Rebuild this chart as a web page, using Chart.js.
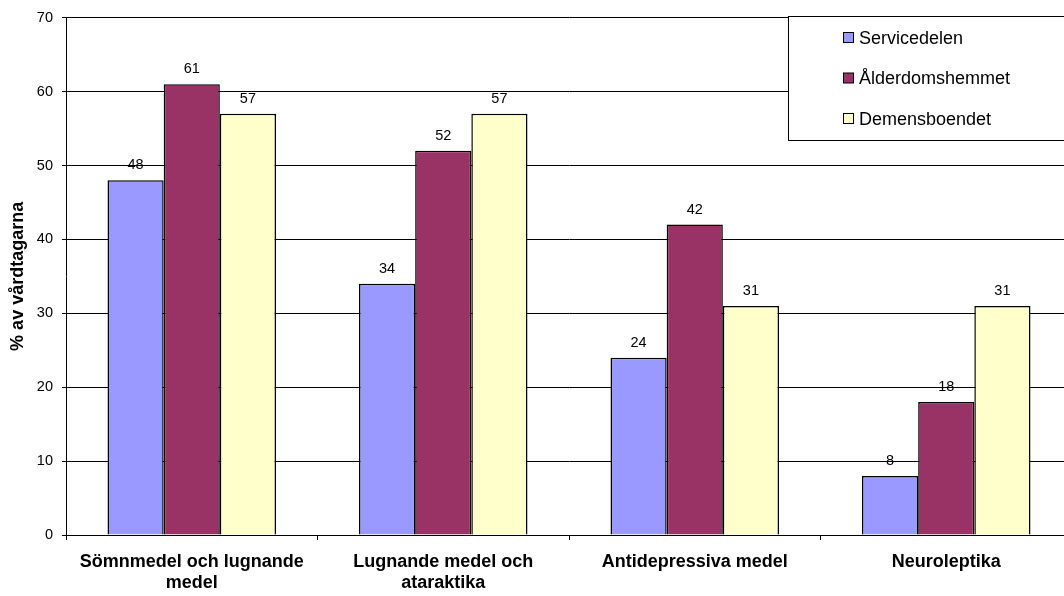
<!DOCTYPE html>
<html>
<head>
<meta charset="utf-8">
<script src="https://cdn.jsdelivr.net/npm/chart.js@4/dist/chart.umd.min.js"></script>
<style>
  html, body { margin: 0; padding: 0; background: #fff; overflow: hidden; }
  #wrap { width: 1064px; height: 596px; position: relative; overflow: hidden; }
</style>
</head>
<body>
<div id="wrap"><canvas id="barChart" width="1072" height="596"></canvas></div>
<script>
const categories = [
  ['Sömnmedel och lugnande', 'medel'],
  ['Lugnande medel och', 'ataraktika'],
  'Antidepressiva medel',
  'Neuroleptika'
];
const seriesNames = ['Servicedelen', 'Ålderdomshemmet', 'Demensboendet'];
const servicedelen = [48, 34, 24, 8];
const alderdomshemmet = [61, 52, 42, 18];
const demensboendet = [57, 57, 31, 31];
const yTicks = [0, 10, 20, 30, 40, 50, 60, 70];

const colors = ['#9999FF', '#993366', '#FFFFCC'];
const FONT = 'Arial, "Liberation Sans", sans-serif';

// etiketter ovanför staplarna
const valueLabels = {
  id: 'valueLabels',
  afterDatasetsDraw(chart) {
    const ctx = chart.ctx;
    ctx.save();
    ctx.font = '14.5px ' + FONT;
    ctx.fillStyle = '#000';
    ctx.textAlign = 'center';
    ctx.textBaseline = 'alphabetic';
    chart.data.datasets.forEach((ds, i) => {
      chart.getDatasetMeta(i).data.forEach((bar, j) => {
        ctx.fillText(ds.data[j], bar.x, bar.y - 11);
      });
    });
    ctx.restore();
  }
};

// legend i rutan uppe till höger
const boxLegend = {
  id: 'boxLegend',
  afterDraw(chart) {
    const ctx = chart.ctx;
    const x0 = 788, y0 = 16, w = 300, h = 124;
    ctx.save();
    ctx.fillStyle = '#fff';
    ctx.fillRect(x0, y0, w, h);
    ctx.strokeStyle = '#000';
    ctx.lineWidth = 1;
    ctx.strokeRect(x0 + 0.5, y0 + 0.5, w, h);
    ctx.font = '18px ' + FONT;
    ctx.textBaseline = 'middle';
    chart.data.datasets.forEach((ds, i) => {
      const y = 38 + i * 40.5;
      ctx.fillStyle = ds.backgroundColor;
      ctx.fillRect(843.5, y - 5.5, 10, 10);
      ctx.strokeRect(843.5, y - 5.5, 10, 10);
      ctx.fillStyle = '#000';
      ctx.fillText(ds.label, 859, y + 1);
    });
    ctx.restore();
  }
};

const datasets = [servicedelen, alderdomshemmet, demensboendet].map((d, i) => ({
  label: seriesNames[i],
  data: d,
  backgroundColor: colors[i],
  borderColor: '#000',
  borderWidth: 1.5,
  borderSkipped: 'bottom',
  barPercentage: 1,
  categoryPercentage: 0.67
}));

new Chart(document.getElementById('barChart').getContext('2d'), {
  type: 'bar',
  data: { labels: categories, datasets },
  options: {
    responsive: false,
    animation: false,
    layout: { padding: { top: 17, right: 0, left: 0, bottom: 0 } },
    plugins: {
      legend: { display: false },
      tooltip: { enabled: false }
    },
    scales: {
      y: {
        min: 0,
        max: 70,
        afterBuildTicks: (axis) => { axis.ticks = yTicks.map(v => ({ value: v })); },
        afterFit: (axis) => { axis.width = 66; },
        border: { color: '#000', width: 1 },
        grid: { color: '#000', lineWidth: 1, tickLength: 4 },
        ticks: { color: '#000', font: { family: FONT, size: 14.5 }, padding: 9 },
        title: {
          display: true,
          text: '% av vårdtagarna',
          color: '#000',
          font: { family: FONT, size: 18, weight: 'bold' },
          padding: { top: 7, bottom: 4 }
        }
      },
      x: {
        afterFit: (axis) => { axis.height = 61; },
        border: { color: '#000', width: 1 },
        grid: { drawOnChartArea: false, color: '#000', tickLength: 5, offset: true },
        ticks: { color: '#000', font: { family: FONT, size: 18, weight: 'bold', lineHeight: 1.2 }, padding: 11, maxRotation: 0 }
      }
    }
  },
  plugins: [valueLabels, boxLegend]
});
</script>
</body>
</html>
